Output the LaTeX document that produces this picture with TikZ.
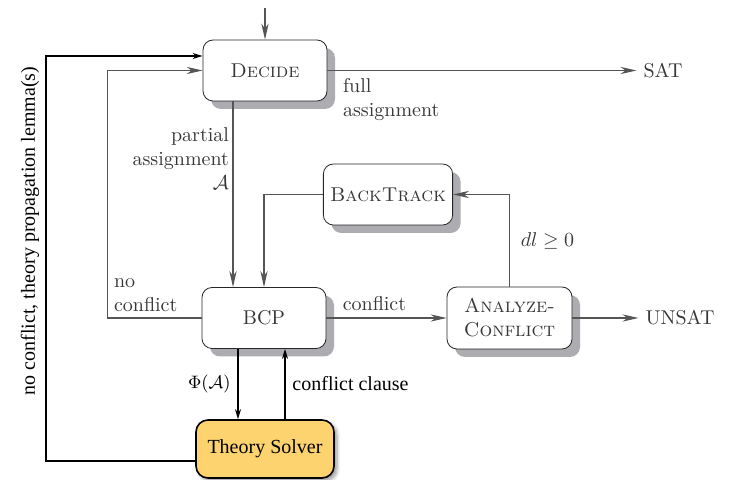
\documentclass[tikz,border=0pt]{standalone}
\usepackage{amsmath,amssymb}
\usepackage{fontspec}
\usepackage{tikz}
\usetikzlibrary{arrows.meta,shadows,shadows.blur}
\newfontfamily\timesfont{Liberation Serif}
\definecolor{GrisLinea}{RGB}{85,85,85}
\definecolor{GrisTexto}{RGB}{55,55,55}
\definecolor{GrisSombra}{RGB}{172,172,177}
\definecolor{AmarilloTeoria}{RGB}{253,211,111}

\begin{document}
\begin{tikzpicture}[x=0.5pt,y=-0.5pt,
  etapa/.style={draw=black!85,rounded corners=5pt,fill=white,minimum width=62pt,minimum height=30.5pt,
    text=GrisTexto,align=center,drop shadow={shadow xshift=4pt,shadow yshift=-4pt,fill=GrisSombra,opacity=1}},
  solver/.style={draw=black,thick,rounded corners=6pt,fill=AmarilloTeoria,minimum width=69pt,minimum height=29pt,
    font=\timesfont,blur shadow={shadow xshift=1.5pt,shadow yshift=-1.5pt,shadow blur steps=6}},
  flujo/.style={-{Stealth[length=8pt,width=3.6pt,inset=2.5pt]},GrisLinea,semithick},
  teoria/.style={-{Stealth[length=5pt,width=3pt]},black,thick},
  etiqueta/.style={text=GrisTexto,align=left}]
  \useasboundingbox (0,0) rectangle (729,480);
  \node[etapa] (decide) at (265,70.5) {\textsc{Decide}};
  \node[etapa] (bcp) at (264,318) {BCP};
  \node[etapa] (backtrack) at (388,194.5) {\textsc{BackTrack}};
  \node[etapa,minimum width=62.5pt,minimum height=31pt] (analyze) at (509.5,318) {\textsc{Analyze-}\\\textsc{Conflict}};
  \node[solver] (solver) at (265,449) {Theory Solver};
  \node[text=GrisTexto] (sat) at (663,70.5) {SAT};
  \node[text=GrisTexto] (unsat) at (680,318) {UNSAT};
  \coordinate (inicio) at (265,8);

  \draw[flujo] (inicio) -- (decide);
  \draw[flujo] (decide) -- (sat);
  \draw[flujo] ([xshift=-16pt]decide.south) -- ([xshift=-16pt]decide.south |- bcp.north);
  \draw[flujo] (backtrack.west) -| (bcp.north);
  \draw[flujo] (analyze.north) |- node[pos=0.25,right,xshift=2pt,text=GrisTexto] {$dl \geq 0$} (backtrack.east);
  \draw[flujo] (bcp) -- node[pos=0.4,above,text=GrisTexto] {conflict} (analyze);
  \draw[flujo] (analyze) -- (unsat);
  \draw[flujo] (bcp.west) -- ++(-47pt,0) |- (decide.west);
  \draw[teoria] ([yshift=-6pt]solver.west) -- ++(-74.5pt,0) |- ([yshift=7.25pt]decide.west);
  \draw[teoria] ([xshift=-13pt]bcp.south) -- node[left] {\small$\Phi(\mathcal{A})$} ([xshift=-13pt]bcp.south |- solver.north);
  \draw[teoria] ([xshift=10pt]solver.north) -- node[right,font=\timesfont] {conflict clause} ([xshift=10pt]solver.north |- bcp.south);

  \node[etiqueta,anchor=north east,align=right] (parcial) at (236,121) {partial\\assignment\\$\mathcal{A}$};
  \node[etiqueta,anchor=north west] (completa) at (336,71) {full\\assignment};
  \node[etiqueta,anchor=south west] (sinconflicto) at (107,319) {no\\conflict};
  \node[rotate=90,font=\timesfont] (propagacion) at (30,231) {no conflict, theory propagation lemma(s)};
\end{tikzpicture}
\end{document}
